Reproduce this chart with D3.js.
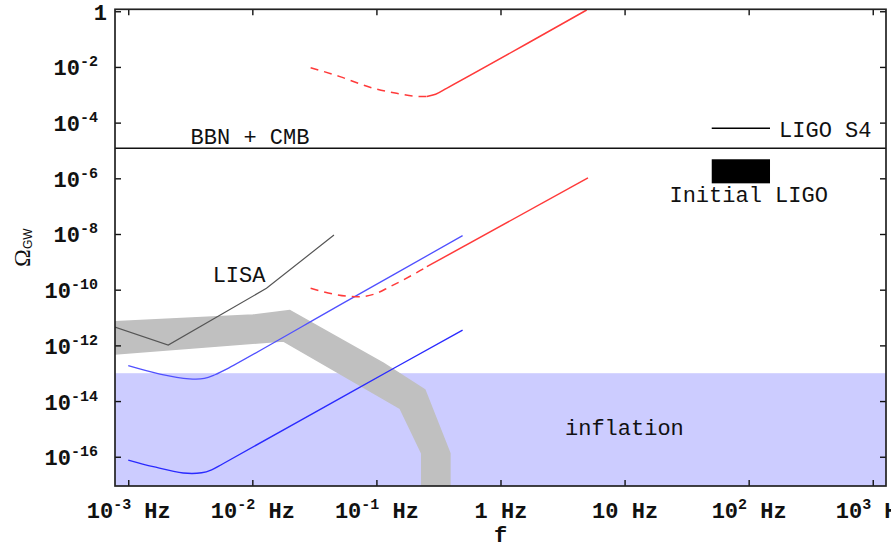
<!DOCTYPE html>
<html><head><meta charset="utf-8">
<script src="https://cdn.jsdelivr.net/npm/d3@7"></script>
<style>body{margin:0;background:#fff}svg{display:block}</style>
</head><body>
<svg id="chart" width="891" height="550"></svg>
<script>
// ---------- data ----------
const xDomain = [7.82e-4, 1.279e3];
const yDomain = [8.9e-18, 1.175];
const xTicks = [1e-3, 1e-2, 1e-1, 1, 10, 100, 1000];
const xTickLabels = ["10^-3 Hz", "10^-2 Hz", "10^-1 Hz", "1 Hz", "10 Hz", "10^2 Hz", "10^3 Hz"];
const yTicks = [1, 1e-2, 1e-4, 1e-6, 1e-8, 1e-10, 1e-12, 1e-14, 1e-16];
const yTickLabels = ["1", "10^-2", "10^-4", "10^-6", "10^-8", "10^-10", "10^-12", "10^-14", "10^-16"];

const bbnCmbLimit = 1.2e-5;
const inflationTop = 1e-13;

const grayBand = [
  [7.8e-4, 7.1e-12], [1.01e-2, 1.23e-11], [2.01e-2, 1.78e-11], [0.1135, 2.29e-13],
  [0.246, 2.5e-14], [0.391, 1.32e-16], [0.391, 8e-18], [0.232, 8e-18],
  [0.232, 1.32e-16], [0.155, 5.5e-15], [1.77e-2, 1.45e-12], [7.8e-4, 4.9e-13]
];
const lisa = [[7.8e-4, 4.5e-12], [2.1e-3, 1.03e-12], [1.30e-2, 1.12e-10], [4.55e-2, 9.2e-9]];
const blueUpper = [[1e-3, 1.86e-13], [1.8e-3, 9.3e-14], [3.1e-3, 6.3e-14], [4.1e-3, 6.5e-14], [5.0e-3, 8.8e-14], [6.2e-3, 1.4e-13], [0.06, 4.3e-11], [0.495, 8.7e-9]];
const blueLower = [[1e-3, 7.6e-17], [1.59e-3, 4.4e-17], [2.77e-3, 2.6e-17], [3.9e-3, 2.65e-17], [4.7e-3, 3.4e-17], [5.8e-3, 5.6e-17], [0.06, 1.9e-14], [0.495, 3.55e-12]];
const redUpperDashed = [[0.0295, 9.4e-3], [0.0508, 4.5e-3], [0.0887, 1.86e-3], [0.1455, 1.13e-3], [0.2244, 8.6e-4], [0.255, 8.7e-4]];
const redUpperSolid = [[0.255, 8.7e-4], [0.30, 1.04e-3], [0.368, 1.71e-3], [4.95, 1.11]];
const redLowerDashed = [[0.0295, 1.12e-10], [0.0575, 5.9e-11], [0.0736, 5.6e-11], [0.097, 7.0e-11], [0.1285, 1.28e-10], [0.2244, 4.8e-10], [0.255, 6.7e-10]];
const redLowerSolid = [[0.255, 6.7e-10], [5.07, 1.03e-6]];
const ligoS4 = [[50.4, 6.27e-5], [148.6, 6.27e-5]];
const initialLigo = [[50.4, 6.6e-7], [148.6, 4.83e-6]];

const textLabels = [
  {text: "BBN + CMB", f: 3.18e-3, omega: 1.7e-5, anchor: "start"},
  {text: "LIGO S4", f: 176, omega: 3.13e-5, anchor: "start"},
  {text: "Initial LIGO", f: 100, omega: 1.45e-7, anchor: "middle"},
  {text: "LISA", f: 4.79e-3, omega: 1.85e-10, anchor: "start"},
  {text: "inflation", f: 3.31, omega: 6.0e-16, anchor: "start"}
];

// ---------- chart ----------
const FONT = "'Courier New', 'Nimbus Mono PS', FreeMono, 'Liberation Mono', monospace";
const L = 115, R = 886, T = 9.3, B = 486;
const svg = d3.select("#chart");
const x = d3.scaleLog().domain(xDomain).range([L, R]);
const y = d3.scaleLog().domain(yDomain).range([B, T]);

svg.append("defs").append("clipPath").attr("id", "clip")
  .append("rect").attr("x", L).attr("y", T).attr("width", R - L).attr("height", B - T);
const plot = svg.append("g").attr("clip-path", "url(#clip)");

// inflation region
plot.append("rect")
  .attr("x", L).attr("width", R - L)
  .attr("y", y(inflationTop)).attr("height", B - y(inflationTop))
  .attr("fill", "#ccccff");

// gray band
plot.append("path")
  .attr("d", d3.line().x(d => x(d[0])).y(d => y(d[1]))(grayBand) + "Z")
  .attr("fill", "#c0c0c0").attr("stroke", "#c0c0c0").attr("stroke-width", 1.5).attr("stroke-linejoin", "round");

const lin = d3.line().x(d => x(d[0])).y(d => y(d[1]));
const smooth = d3.line().x(d => x(d[0])).y(d => y(d[1])).curve(d3.curveMonotoneX);
const round = d3.line().x(d => x(d[0])).y(d => y(d[1])).curve(d3.curveCatmullRom.alpha(0.5));

plot.append("path").attr("d", lin(lisa)).attr("fill", "none").attr("stroke", "#555").attr("stroke-width", 1.2);
plot.append("path").attr("d", round(blueUpper)).attr("fill", "none").attr("stroke", "#5050ff").attr("stroke-width", 1.3);
plot.append("path").attr("d", round(blueLower)).attr("fill", "none").attr("stroke", "#2a2aff").attr("stroke-width", 1.4);
[[redUpperDashed, "8,6"], [redUpperSolid, null], [redLowerDashed, "8,6"], [redLowerSolid, null]].forEach(([d, dash]) => {
  const p = plot.append("path").attr("d", smooth(d)).attr("fill", "none").attr("stroke", "#ff3a3a").attr("stroke-width", 1.5);
  if (dash) p.attr("stroke-dasharray", dash);
});

// LIGO S4 line and Initial LIGO box
plot.append("path").attr("d", lin(ligoS4)).attr("stroke", "#000").attr("stroke-width", 1.3);
plot.append("rect")
  .attr("x", x(initialLigo[0][0])).attr("width", x(initialLigo[1][0]) - x(initialLigo[0][0]))
  .attr("y", y(initialLigo[1][1])).attr("height", y(initialLigo[0][1]) - y(initialLigo[1][1]))
  .attr("fill", "#000");

// BBN + CMB line
plot.append("line").attr("x1", L).attr("x2", R).attr("y1", y(bbnCmbLimit)).attr("y2", y(bbnCmbLimit))
  .attr("stroke", "#111").attr("stroke-width", 1.4);

// text labels
svg.append("g").selectAll("text").data(textLabels).join("text")
  .attr("x", d => x(d.f)).attr("y", d => y(d.omega))
  .attr("text-anchor", d => d.anchor)
  .attr("font-family", FONT).attr("font-size", 22).attr("fill", "#111")
  .text(d => d.text);

// axes (ticks inward)
function parseLabel(s) {
  const m = s.match(/^(\d+)(?:\^(\S+))?(.*)$/);
  return {base: m[1], sup: m[2] || "", rest: m[3] || ""};
}
function styleAxis(g) {
  g.select(".domain").remove();
  g.selectAll(".tick line").attr("stroke", "#111").attr("stroke-width", 1.4);
  g.selectAll(".tick text").remove();
}
const gx = svg.append("g").attr("transform", `translate(0,${B})`)
  .call(d3.axisBottom(x).tickValues(xTicks).tickSize(-6).tickFormat(() => "")).call(styleAxis);
svg.append("g").attr("transform", `translate(0,${T})`)
  .call(d3.axisTop(x).tickValues(xTicks).tickSize(-6).tickFormat(() => "")).call(styleAxis);
const gy = svg.append("g").attr("transform", `translate(${L},0)`)
  .call(d3.axisLeft(y).tickValues(yTicks).tickSize(-6).tickFormat(() => "")).call(styleAxis);
svg.append("g").attr("transform", `translate(${R},0)`)
  .call(d3.axisRight(y).tickValues(yTicks).tickSize(-6).tickFormat(() => "")).call(styleAxis);

gx.selectAll(".tick").each(function (d, i) {
  const p = parseLabel(xTickLabels[i]);
  const t = d3.select(this).append("text").attr("y", 32).attr("text-anchor", "middle")
    .attr("font-family", FONT).attr("font-size", 22).attr("fill", "#111").attr("font-weight", "bold");
  t.append("tspan").text(p.base);
  if (p.sup) {
    t.append("tspan").attr("font-size", 15).attr("dy", -9).text(p.sup);
    t.append("tspan").attr("dy", 9).text(p.rest);
  } else t.append("tspan").text(p.rest);
});
gy.selectAll(".tick").each(function (d, i) {
  const p = parseLabel(yTickLabels[i]);
  const t = d3.select(this).append("text").attr("x", p.sup ? -17 : -8).attr("y", 8).attr("text-anchor", "end")
    .attr("font-family", FONT).attr("font-size", 22).attr("fill", "#111").attr("font-weight", "bold");
  t.append("tspan").text(p.base);
  if (p.sup) t.append("tspan").attr("font-size", 15).attr("dy", -9).text(p.sup);
});

// frame
svg.append("rect").attr("x", L).attr("y", T).attr("width", R - L).attr("height", B - T)
  .attr("fill", "none").attr("stroke", "#222").attr("stroke-width", 1.7);

// axis titles
svg.append("text").attr("x", (L + R) / 2).attr("y", 542).attr("text-anchor", "middle")
  .attr("font-family", FONT).attr("font-size", 22).attr("font-weight", "bold").attr("fill", "#111").text("f");
const yt = svg.append("text").attr("transform", `translate(30,${(T + B) / 2}) rotate(-90)`)
  .attr("text-anchor", "middle").attr("fill", "#111");
yt.append("tspan").attr("font-family", "'Liberation Serif', 'DejaVu Serif', serif").attr("font-size", 24).text("Ω");
yt.append("tspan").attr("font-family", "'Liberation Sans', Arial, sans-serif").attr("font-size", 12).attr("dy", 2).text("GW");
</script>
</body></html>
